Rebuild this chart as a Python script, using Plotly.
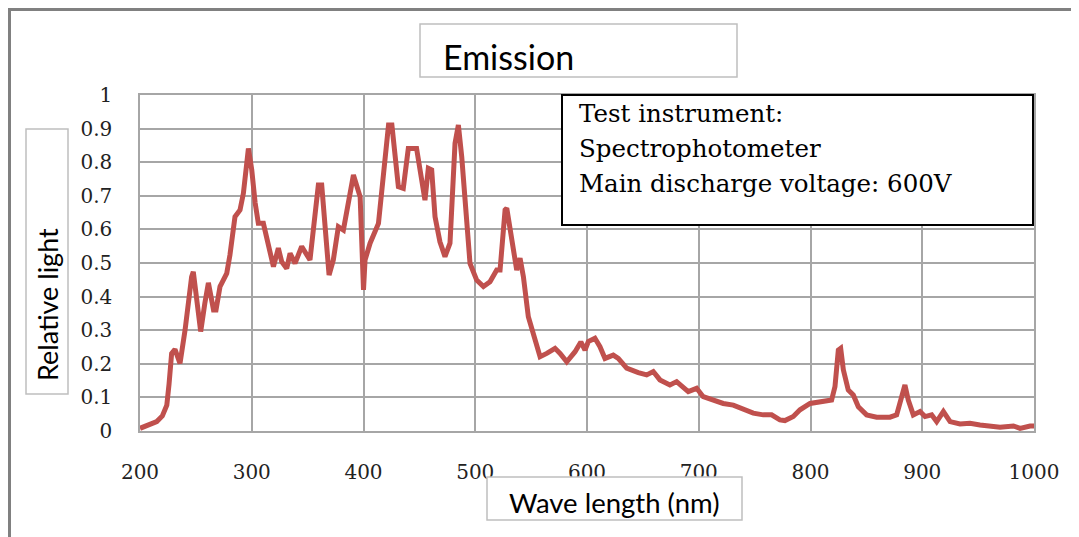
import plotly.graph_objects as go

# ---- data ----
wavelength = [200, 208, 215, 220, 224, 226, 228.3, 231.3, 235.8, 240.3, 243, 246.2, 247.7, 251, 254.3,
              258, 261.2, 265.8, 268, 271.6, 275, 277.6, 280.5, 285, 289.5, 292.5, 297, 300, 303,
              305.9, 310.4, 314, 319.4, 323.8, 326.8, 331.3, 334.3, 338.7, 344.7, 352.1, 356.6,
              359.6, 362.6, 367.1, 369.2, 373, 377.5, 382, 386.5, 391, 397, 400, 401.4, 405.9,
              413.4, 419.4, 422.4, 425.4, 428.5, 431.2, 435.6, 440.1, 447.5, 452, 455, 458, 461,
              464, 468.4, 472.9, 477.4, 481.9, 484.9, 487.9, 491, 495.3, 501.3, 507.3, 513.2,
              519.2, 522.2, 526.7, 528.2, 532.6, 537.1, 540.1, 543.1, 547.5, 552, 558, 564, 571.4,
              575.9, 581.9, 589.3, 594.5, 598.2, 601.2, 607.1, 611.6, 616.1, 623.5, 628, 635.5,
              645.9, 653.4, 659.3, 665.3, 674.2, 680.2, 690.6, 698.1, 704, 713, 721.9, 730.9,
              739.8, 748.8, 757.7, 765.2, 772.6, 777.1, 784.6, 790.6, 799.6, 808.5, 818.9, 821.9,
              824.9, 827, 829.4, 833.8, 838.3, 842.8, 850.2, 859.2, 871.1, 877.1, 881.6, 884.5,
              887.5, 892, 898, 902.5, 908.4, 912.9, 918.9, 924.9, 933.8, 942.7, 951.7, 960.7,
              969.6, 981.6, 987.5, 996.5, 1000]
relative_light = [0.008, 0.018, 0.028, 0.045, 0.077, 0.14, 0.231, 0.243, 0.201, 0.30, 0.38, 0.459, 0.474,
                  0.38, 0.296, 0.38, 0.441, 0.36, 0.36, 0.43, 0.45, 0.469, 0.524, 0.638, 0.658,
                  0.707, 0.841, 0.777, 0.68, 0.618, 0.618, 0.559, 0.489, 0.544, 0.504, 0.484,
                  0.529, 0.499, 0.549, 0.509, 0.638, 0.732, 0.732, 0.529, 0.464, 0.509, 0.608,
                  0.598, 0.678, 0.762, 0.697, 0.42, 0.509, 0.559, 0.618, 0.816, 0.911, 0.911,
                  0.816, 0.727, 0.722, 0.841, 0.841, 0.742, 0.687, 0.782, 0.777, 0.638, 0.563,
                  0.519, 0.559, 0.856, 0.911, 0.816, 0.66, 0.499, 0.449, 0.43, 0.444, 0.479,
                  0.479, 0.658, 0.663, 0.559, 0.479, 0.514, 0.459, 0.34, 0.286, 0.221, 0.231,
                  0.246, 0.231, 0.206, 0.236, 0.265, 0.241, 0.266, 0.276, 0.251, 0.216, 0.226,
                  0.216, 0.187, 0.174, 0.167, 0.177, 0.152, 0.137, 0.147, 0.117, 0.127, 0.102,
                  0.092, 0.082, 0.077, 0.064, 0.053, 0.048, 0.048, 0.033, 0.031, 0.043, 0.063,
                  0.082, 0.087, 0.092, 0.132, 0.241, 0.246, 0.182, 0.122, 0.107, 0.072, 0.048,
                  0.041, 0.041, 0.048, 0.112, 0.137, 0.092, 0.048, 0.058, 0.043, 0.048, 0.028,
                  0.058, 0.028, 0.021, 0.023, 0.018, 0.013, 0.011, 0.015, 0.008, 0.015, 0.015]
x_ticks = [200, 300, 400, 500, 600, 700, 800, 900, 1000]
y_ticks = [0, 0.1, 0.2, 0.3, 0.4, 0.5, 0.6, 0.7, 0.8, 0.9, 1]
title_text = "Emission"
x_title = "Wave length (nm)"
y_title = "Relative light"
note_lines = ["Test instrument:", "Spectrophotometer", "Main discharge voltage: 600V"]

# page offset of the figure (browser default body margin)
OX, OY = 8, 8
W, H = 1079 - OX, 537 - OY
L, T = 140 - OX, 95 - OY
R, B = 1079 - 1034, 537 - 431
PW, PH = W - L - R, H - T - B


def px(x):
    return (x - OX - L) / PW


def py(y):
    return (H - B - (y - OY)) / PH


fig = go.Figure()
fig.add_trace(go.Scatter(x=wavelength, y=relative_light, mode="lines",
                         line=dict(color="#C0504D", width=5), showlegend=False))

grid = "#A6A6A6"
serif = "DejaVu Serif"
sans = "Lato"

fig.update_layout(
    width=W, height=H,
    margin=dict(l=L, r=R, t=T, b=B),
    paper_bgcolor="white", plot_bgcolor="white",
    xaxis=dict(range=[200, 1000], tickvals=x_ticks, showgrid=True, gridcolor=grid, gridwidth=1.5,
               zeroline=False, showline=True, linecolor=grid, linewidth=1.5, mirror=True,
               tickfont=dict(family=serif, size=20, color="#222"), ticks="", ticklabelstandoff=22),
    yaxis=dict(range=[0, 1], tickvals=y_ticks, showgrid=True, gridcolor=grid, gridwidth=1.5,
               zeroline=False, showline=True, linecolor=grid, linewidth=1.5, mirror=True,
               tickfont=dict(family=serif, size=20, color="#222"), ticks="", ticklabelstandoff=22),
)

box = "#BFBFBF"
shapes = [
    # outer frame (top and left)
    dict(type="line", xref="paper", yref="paper", x0=px(9), x1=px(1079), y0=py(9.5), y1=py(9.5),
         line=dict(color="#808080", width=3)),
    dict(type="line", xref="paper", yref="paper", x0=px(9.5), x1=px(9.5), y0=py(8), y1=py(537),
         line=dict(color="#808080", width=3)),
    # title box
    dict(type="rect", xref="paper", yref="paper", x0=px(420), x1=px(737), y0=py(77), y1=py(24),
         line=dict(color=box, width=1.5)),
    # y-title box
    dict(type="rect", xref="paper", yref="paper", x0=px(26), x1=px(68), y0=py(394), y1=py(129),
         line=dict(color=box, width=1.5)),
    # x-title box
    dict(type="rect", xref="paper", yref="paper", x0=px(487), x1=px(742), y0=py(520), y1=py(477),
         line=dict(color=box, width=1.5), fillcolor="white", layer="above"),
    # note box
    dict(type="rect", xref="paper", yref="paper", x0=px(562), x1=px(1033), y0=py(225), y1=py(95),
         line=dict(color="black", width=2), fillcolor="white", layer="above"),
]
fig.update_layout(shapes=shapes)

ann = [
    dict(text=title_text, x=px(441), y=py(57), xanchor="left", yanchor="middle",
         font=dict(family=sans, size=34, color="black")),
    dict(text=y_title, x=px(47), y=py(305), xanchor="center", yanchor="middle", textangle=-90,
         font=dict(family=sans, size=27, color="black")),
    dict(text=x_title, x=px(507), y=py(502), xanchor="left", yanchor="middle",
         font=dict(family=sans, size=27.5, color="black")),
]
for line_txt, yy in zip(note_lines, [113, 148, 183]):
    ann.append(dict(text=line_txt, x=px(577), y=py(yy), xanchor="left", yanchor="middle",
                    font=dict(family=serif, size=24.5, color="black")))
for a in ann:
    a.update(xref="paper", yref="paper", showarrow=False)
fig.update_layout(annotations=ann)

fig.write_html("out.html")
